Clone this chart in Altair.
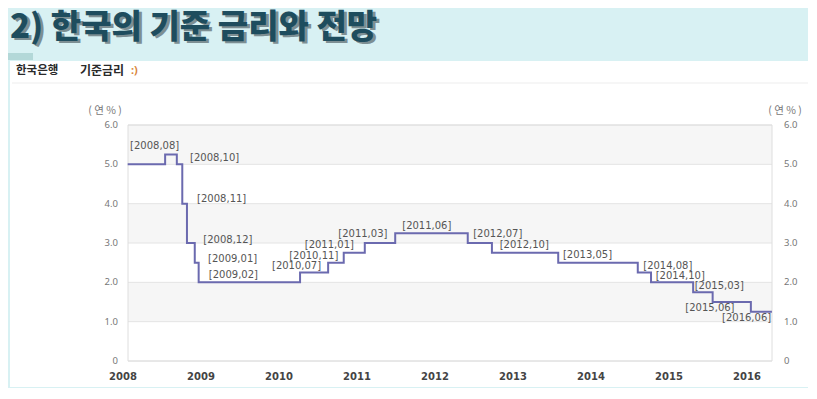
import altair as alt
import pandas as pd

# ---- data ----
step_x = [2008.06, 2008.54, 2008.69, 2008.76, 2008.82, 2008.92, 2008.97, 2010.27, 2010.63,
          2010.83, 2011.10, 2011.49, 2012.42, 2012.73, 2013.58, 2014.60, 2014.77, 2015.31,
          2015.56, 2016.05, 2016.32]
step_rate = [5.0, 5.25, 5.0, 4.0, 3.0, 2.5, 2.0, 2.25, 2.5, 2.75, 3.0, 3.25, 3.0, 2.75,
             2.5, 2.25, 2.0, 1.75, 1.5, 1.25, 1.25]

label_text = ["[2008,08]", "[2008,10]", "[2008,11]", "[2008,12]", "[2009,01]", "[2009,02]",
              "[2010,07]", "[2010,11]", "[2011,01]", "[2011,03]", "[2011,06]", "[2012,07]",
              "[2012,10]", "[2013,05]", "[2014,08]", "[2014,10]", "[2015,03]", "[2015,06]",
              "[2016,06]"]
label_x = [2008.09, 2008.86, 2008.95, 2009.03, 2009.09, 2009.10, 2009.91, 2010.13, 2010.33,
           2010.76, 2011.58, 2012.49, 2012.83, 2013.64, 2014.67, 2014.83, 2015.33, 2015.21,
           2015.68]
label_y = [5.47, 5.16, 4.12, 3.08, 2.59, 2.19, 2.42, 2.67, 2.95, 3.23, 3.43, 3.23, 2.95,
           2.70, 2.42, 2.16, 1.91, 1.35, 1.09]

years = [2008, 2009, 2010, 2011, 2012, 2013, 2014, 2015, 2016]
y_ticks = [0, 1, 2, 3, 4, 5, 6]
y_tick_labels = ["0", "1.0", "2.0", "3.0", "4.0", "5.0", "6.0"]
band_lo = [1, 3, 5]
band_hi = [2, 4, 6]

title_text = "2) 한국의 기준 금리와 전망"
subtitle_a = "한국은행"
subtitle_b = "기준금리"
subtitle_c = ":)"
unit_text = "( 연 % )"

W, H = 644, 236
xs = alt.Scale(domain=[2008.064, 2016.321], nice=False, zero=False)
ys = alt.Scale(domain=[0, 6], nice=False, zero=False)

one = pd.DataFrame({"a": [0]})
steps = pd.DataFrame({"x": step_x, "rate": step_rate})
labels = pd.DataFrame({"t": label_text, "x": label_x, "y": label_y})
yrs = pd.DataFrame({"year": years})
yt = pd.DataFrame({"v": y_ticks, "t": y_tick_labels})
bands = pd.DataFrame({"lo": band_lo, "hi": band_hi})

white_box = alt.Chart(one).mark_rect(color="white").encode(
    x=alt.value(-118), x2=alt.value(682), y=alt.value(-64), y2=alt.value(262))
tab = alt.Chart(one).mark_rect(color="#b3d8d8").encode(
    x=alt.value(-120), x2=alt.value(-95), y=alt.value(-72), y2=alt.value(-65))
sep = alt.Chart(one).mark_rule(color="#ededed", strokeWidth=1).encode(
    x=alt.value(-116), x2=alt.value(680), y=alt.value(-42))

band_layer = alt.Chart(bands).mark_rect(color="#f6f6f6").encode(
    x=alt.value(0), x2=alt.value(W),
    y=alt.Y("lo:Q", scale=ys, axis=None), y2="hi:Q")
grid = alt.Chart(yt).mark_rule(color="#e4e4e4", strokeWidth=1).encode(
    x=alt.value(0), x2=alt.value(W), y=alt.Y("v:Q", scale=ys, axis=None))
border = alt.Chart(one).mark_rect(fillOpacity=0, stroke="#dedede", strokeWidth=1).encode(
    x=alt.value(0), x2=alt.value(W), y=alt.value(0), y2=alt.value(H))

line = alt.Chart(steps).mark_line(interpolate="step-after", color="#6b6aaf", strokeWidth=2).encode(
    x=alt.X("x:Q", scale=xs, axis=None), y=alt.Y("rate:Q", scale=ys, axis=None))

lab = alt.Chart(labels).mark_text(align="left", baseline="middle", fontSize=10,
                                  font="DejaVu Sans", color="#555555").encode(
    x=alt.X("x:Q", scale=xs, axis=None), y=alt.Y("y:Q", scale=ys, axis=None), text="t:N")

left_ticks = alt.Chart(yt).mark_text(align="right", baseline="middle", fontSize=9.5,
                                     font="Noto Sans", color="#777777").encode(
    x=alt.value(-10), y=alt.Y("v:Q", scale=ys, axis=None), text="t:N")
right_ticks = alt.Chart(yt).mark_text(align="left", baseline="middle", fontSize=9.5,
                                      font="Noto Sans", color="#777777").encode(
    x=alt.value(656), y=alt.Y("v:Q", scale=ys, axis=None), text="t:N")
year_labels = alt.Chart(yrs).mark_text(align="center", baseline="middle", fontSize=10,
                                       font="DejaVu Sans", fontWeight="bold", color="#444444").encode(
    x=alt.X("year:Q", scale=xs, axis=None), y=alt.value(252), text="year:O")

unit_left = alt.Chart(one).mark_text(text=unit_text, align="center", baseline="middle", fontSize=10.5,
                                     font="Noto Sans CJK KR", color="#777777").encode(
    x=alt.value(-23), y=alt.value(-14))
unit_right = alt.Chart(one).mark_text(text=unit_text, align="center", baseline="middle", fontSize=10.5,
                                      font="Noto Sans CJK KR", color="#777777").encode(
    x=alt.value(657), y=alt.value(-14))

title_shadow = alt.Chart(one).mark_text(text=title_text, align="left", baseline="alphabetic",
                                        fontSize=33, font="Noto Sans CJK KR", fontWeight=900,
                                        color="#7d8f93").encode(
    x=alt.value(-115), y=alt.value(-85))
title = alt.Chart(one).mark_text(text=title_text, align="left", baseline="alphabetic",
                                 fontSize=33, font="Noto Sans CJK KR", fontWeight=900,
                                 color="#1e4d5e").encode(
    x=alt.value(-118), y=alt.value(-87))

sub_a = alt.Chart(one).mark_text(text=subtitle_a, align="left", baseline="middle", fontSize=11.5,
                                 font="Noto Sans CJK KR", fontWeight="bold", color="#2a2a2a").encode(
    x=alt.value(-112), y=alt.value(-54))
sub_b = alt.Chart(one).mark_text(text=subtitle_b, align="left", baseline="middle", fontSize=12,
                                 font="Noto Sans CJK KR", fontWeight="bold", color="#2a2a2a").encode(
    x=alt.value(-48), y=alt.value(-54))
sub_c = alt.Chart(one).mark_text(text=subtitle_c, align="left", baseline="middle", fontSize=11,
                                 font="Noto Sans", fontWeight="bold", color="#d9853b").encode(
    x=alt.value(3), y=alt.value(-54))

chart = alt.layer(
    white_box, tab, sep, band_layer, grid, border, line, lab,
    left_ticks, right_ticks, year_labels, unit_left, unit_right,
    title_shadow, title, sub_a, sub_b, sub_c
).properties(
    width=W, height=H,
    padding={"left": 120, "top": 117, "right": 36, "bottom": 27},
    autosize=alt.AutoSizeParams(type="none"),
    background="#d8f1f3",
).configure_view(stroke="transparent")

chart.save("out.html", embed_options={"renderer": "svg", "actions": False})
